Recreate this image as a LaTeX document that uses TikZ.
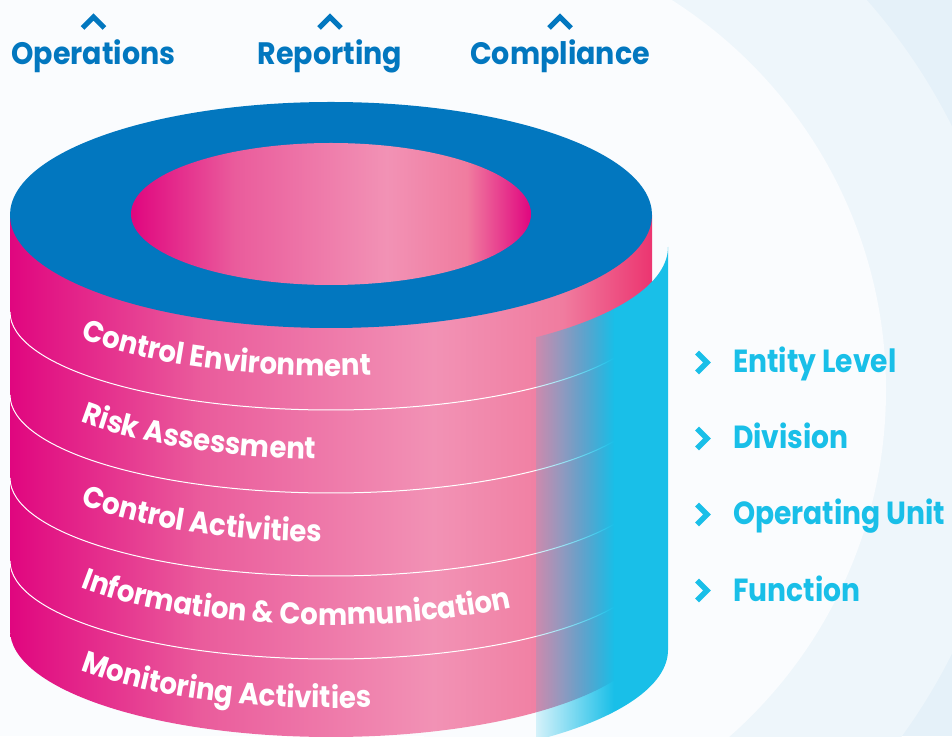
\documentclass[tikz,border=0pt]{standalone}
\usepackage{fontspec}
\setmainfont{Poppins}
\newfontfamily\lblfont{Poppins}[FakeStretch=0.92]
\newfontfamily\sidefont{Poppins}[FakeStretch=0.88]
\usetikzlibrary{decorations.text,fadings}

\definecolor{cosoblue}{HTML}{0277BF}
\definecolor{cosocyan}{HTML}{19BFE8}
\definecolor{pkA}{HTML}{E0067F}
\definecolor{pkB}{HTML}{EA5C9C}
\definecolor{pkC}{HTML}{F292B5}
\definecolor{pkD}{HTML}{F07C9F}
\definecolor{pkE}{HTML}{EC3570}
\definecolor{bgin}{HTML}{FAFCFE}
\definecolor{bgmid}{HTML}{EEF6FB}
\definecolor{bgout}{HTML}{E5F1F9}

\pgfdeclarehorizontalshading{bodypink}{100bp}{color(0bp)=(pkA); color(25bp)=(pkA); color(40bp)=(pkB); color(58bp)=(pkC); color(68bp)=(pkD); color(75bp)=(pkE); color(100bp)=(pkE)}
\pgfdeclarehorizontalshading{holepink}{100bp}{color(0bp)=(pkA); color(25bp)=(pkA); color(38bp)=(pkB); color(57bp)=(pkC); color(67bp)=(pkD); color(75bp)=(pkA); color(100bp)=(pkA)}
\tikzfading[name=cyanfade, left color=transparent!85, right color=transparent!0]

\newcommand\bandfont{\lblfont\bfseries\fontsize{30}{30}\selectfont}

\begin{document}
\begin{tikzpicture}[x=1pt,y=1pt,
  toplbl/.style={font={\lblfont\bfseries\fontsize{31}{31}\selectfont}, text=cosoblue, anchor=base, inner sep=0pt},
  sidelbl/.style={font={\sidefont\bfseries\fontsize{32}{32}\selectfont}, text=cosocyan, anchor=base west, inner sep=0pt},
  uchev/.style={cosoblue, line width=5pt, line join=miter},
  rchev/.style={cosocyan, line width=5.5pt, line join=miter},
  sepline/.style={white, line width=1pt},
  bandtext/.style={decorate, decoration={text along path, text color=white, text align=left}}]
\useasboundingbox (0,0) rectangle (952,736);
\clip (0,0) rectangle (952,736);
% backdrop
\fill[bgin] (0,0) rectangle (952,736);
\begin{scope}
  \clip (424,0) rectangle (952,736);
  \fill[bgout] (424,0) rectangle (952,736);
  \fill[bgmid] (424,346) circle[radius=590];
  \fill[bgin] (424,346) circle[radius=462];
\end{scope}
% cylinder body
\shade[shading=bodypink] (10,521) -- (10,106) arc[start angle=180, end angle=360, x radius=321, y radius=107] -- (652,521) -- cycle;
% band borders
\foreach \k in {0,...,3}
  \draw[sepline] (10,{424-83*\k}) arc[start angle=180, end angle=360, x radius=321, y radius=98];
% band labels
\path[bandtext, decoration={text={|\bandfont|Control Environment}}] (331,460) ++(218.7:321 and 100) arc[start angle=218.7, end angle=355, x radius=321, y radius=100];
\path[bandtext, decoration={text={|\bandfont|Risk Assessment}}] (331,377) ++(218.7:321 and 100) arc[start angle=218.7, end angle=355, x radius=321, y radius=100];
\path[bandtext, decoration={text={|\bandfont|Control Activities}}] (331,294) ++(218.7:321 and 100) arc[start angle=218.7, end angle=355, x radius=321, y radius=100];
\path[bandtext, decoration={text={|\bandfont|Information {\&} Communication}}] (331,211) ++(218.7:321 and 100) arc[start angle=218.7, end angle=355, x radius=321, y radius=100];
\path[bandtext, decoration={text={|\bandfont|Monitoring Activities}}] (331,128) ++(218.7:321 and 100) arc[start angle=218.7, end angle=355, x radius=321, y radius=100];
% cyan wrap on the right
\begin{scope}
  \clip (668,489) arc[start angle=0, end angle=-53, x radius=331, y radius=113] -- ++(0,-403) arc[start angle=-53, end angle=0, x radius=331, y radius=113] -- cycle;
  \fill[cosocyan, path fading=cyanfade] (535,-10) rectangle (614,500);
  \fill[cosocyan] (613.5,-10) rectangle (680,500);
\end{scope}
% top ring
\fill[cosoblue] (331,521) ellipse[x radius=321, y radius=113];
\shade[shading=holepink] (331,522) ellipse[x radius=200, y radius=71];
% objectives
\node[toplbl] (ops) at (93.5,671) {Operations};
\node[toplbl] (rep) at (330,671) {Reporting};
\node[toplbl] (cmp) at (560,671) {Compliance};
\foreach \n in {ops,rep,cmp}
  \draw[uchev] ([yshift=42.5pt]\n.base) ++(-11,-5.5) -- ++(11,11) -- ++(11,-11);
% organisation levels
\node[sidelbl] (ent) at (733,363) {Entity Level};
\node[sidelbl] (div) at (733,287) {Division};
\node[sidelbl] (opu) at (733,211) {Operating Unit};
\node[sidelbl] (fun) at (733,135) {Function};
\foreach \n in {ent,div,opu,fun}
  \draw[rchev] ([shift={(-31,10.5)}]\n.base west) ++(-5,10) -- ++(10,-10) -- ++(-10,-10);
\end{tikzpicture}
\end{document}
